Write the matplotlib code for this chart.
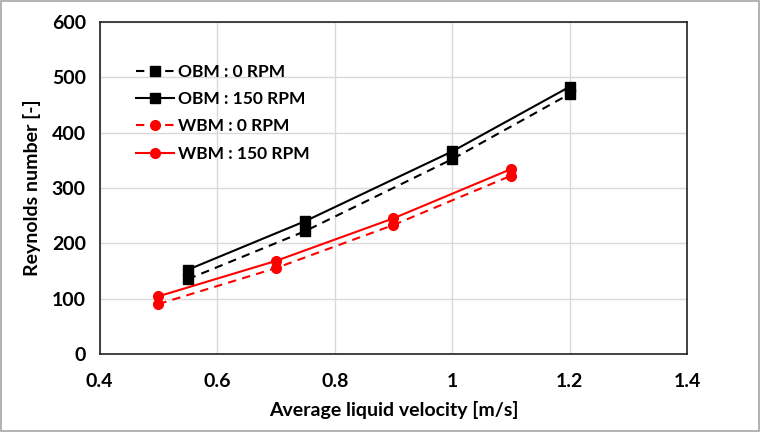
import matplotlib
matplotlib.use("Agg")
import matplotlib.pyplot as plt
from matplotlib.patches import Rectangle

obm_x = [0.55, 0.75, 1.0, 1.2]
obm_0 = [135, 222, 352, 470]
obm_150 = [152, 240, 366, 483]
wbm_x = [0.5, 0.7, 0.9, 1.1]
wbm_0 = [90, 155, 233, 322]
wbm_150 = [104, 168, 245, 334]
labels = ["OBM : 0 RPM", "OBM : 150 RPM", "WBM : 0 RPM", "WBM : 150 RPM"]
xticks = [0.4, 0.6, 0.8, 1.0, 1.2, 1.4]
xticklabels = ["0.4", "0.6", "0.8", "1", "1.2", "1.4"]
yticks = [0, 100, 200, 300, 400, 500, 600]

plt.rcParams['font.family'] = ['Lato', 'DejaVu Sans']
fig = plt.figure(figsize=(7.61, 4.32), dpi=100)
ax = fig.add_axes([0.131, 0.181, 0.772, 0.768])

ax.plot(obm_x, obm_0, color='black', ls=(0, (4, 3)), lw=1.5, marker='s', ms=7, label=labels[0])
ax.plot(obm_x, obm_150, color='black', ls='-', lw=1.5, marker='s', ms=7, label=labels[1])
ax.plot(wbm_x, wbm_0, color='#ff0000', ls=(0, (4, 3)), lw=1.5, marker='o', ms=7, label=labels[2])
ax.plot(wbm_x, wbm_150, color='#ff0000', ls='-', lw=1.5, marker='o', ms=7, label=labels[3])

ax.set_xlim(0.4, 1.4)
ax.set_ylim(0, 600)
ax.set_xticks(xticks)
ax.set_xticklabels(xticklabels)
ax.set_yticks(yticks)
ax.grid(True, color='#d9d9d9', lw=1)
ax.set_axisbelow(True)
ax.tick_params(axis='y', length=0, labelsize=14, pad=10)
ax.tick_params(axis='x', length=0, labelsize=14, pad=14)
for t in ax.get_xticklabels() + ax.get_yticklabels():
    t.set_fontweight('bold')
for s in ax.spines.values():
    s.set_color('#222222')
    s.set_linewidth(1.2)

ax.set_xlabel("Average liquid velocity [m/s]", fontsize=14, fontweight='bold', labelpad=8)
ax.set_ylabel("Reynolds number [-]", fontsize=14, fontweight='bold', labelpad=8)

leg = ax.legend(loc='upper left', bbox_to_anchor=(0.05, 0.895), frameon=False,
                prop={'size': 12.5, 'weight': 'bold'}, handlelength=2.2,
                handletextpad=0.2, labelspacing=0.65, borderaxespad=0)

fig.patches.append(Rectangle((0.001, 0.002), 0.997, 0.996, transform=fig.transFigure,
                             fill=False, edgecolor='#a6a6a6', lw=1.2))
fig.savefig("out.png", dpi=100)
